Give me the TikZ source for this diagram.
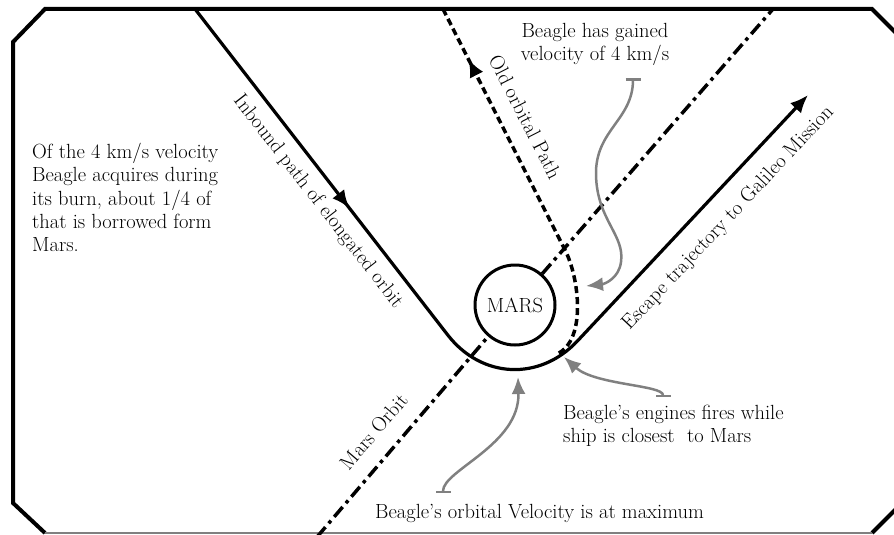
\documentclass[tikz,border=0pt]{standalone}
\usepackage{xcolor}
\usetikzlibrary{arrows.meta}
\usetikzlibrary{decorations.markings, math}
\definecolor{mgrey}{RGB}{128,128,128}

\begin{document}
\begin{tikzpicture}[x=1pt, y=-1pt,
  >={Latex[length=18pt,width=15pt]},
  txt/.style={font=\fontsize{20.5}{23.3}\selectfont, inner sep=0pt},
  frame/.style={line width=4pt},
  traj/.style={line width=3.2pt},
  oldpath/.style={line width=3.5pt, dash pattern=on 7pt off 4pt},
  orbit/.style={line width=3.5pt, dash pattern=on 13pt off 5pt on 3.5pt off 5pt},
  pointer/.style={draw=mgrey, line width=2.5pt, arrows={Bar[width=15pt]-Latex[length=17pt,width=14pt]}}]

\tikzmath{
\W = 894;
\H = 535;
\R = 40; %radius of Mars
\rc = 100; %rounding at closest approach
}

\clip (0,0) rectangle (\W,\H);

%frame:
\draw[frame] (45,533) -- (13,503) -- (13,42) -- (45,9) -- (872,9) -- (900,37);
\draw[frame] (900,505) -- (872,533);
\draw[mgrey, line width=1.5pt] (45,533) -- (872,533);

%trajectories
\coordinate (inS) at (195,9);
\coordinate (peri) at (509,414);
\coordinate (escN) at (808,95);
\coordinate (oldN) at (443,9);
\coordinate (oldB) at (565,250);
\coordinate (oldE) at (557,354);
\coordinate (orbS) at (317,537);
\coordinate (orbN) at (773,9);

%Mars:
\node[txt, circle, draw, line width=3pt, minimum size=2*\R] (mars) at (515,305) {MARS};

\draw[orbit] (orbS) -- (mars);
\draw[orbit] (mars) -- (orbN);

\draw[oldpath, decoration={markings, mark=at position 56pt with {\arrowreversed{>}}}, postaction={decorate}]
  (oldN) -- (oldB) .. controls (579,277) and (587,340) .. (oldE);

\draw[traj, ->, rounded corners=\rc pt, decoration={markings, mark=at position 252pt with {\arrow{>}}}, postaction={decorate}]
  (inS) -- (peri) -- (escN);

%labels along the paths
\node[txt, anchor=base, rotate=-52.2] (inlbl) at (314,205) {Inbound path of elongated orbit};
\node[txt, anchor=base, rotate=-63] (oldlbl) at (519,120) {Old orbital Path};
\node[txt, anchor=base, rotate=46.8] (esclbl) at (732,222) {Escape trajectory to Galileo Mission};
\node[txt, anchor=base, rotate=49.5] (orblbl) at (379,436) {Mars Orbit};

%notes
\node[txt, align=left, anchor=north west] (note) at (32,143) {Of the 4 km/s velocity\\ Beagle acquires during\\ its burn, about 1/4 of\\ that is borrowed form\\ Mars.};
\node[txt, align=center, anchor=north] (gain) at (595,23) {Beagle has gained\\ velocity of 4 km/s};
\node[txt, align=left, anchor=north west] (fire) at (563,405) {Beagle's engines fires while\\ ship is closest~ to Mars};
\node[txt, anchor=north west] (vmax) at (375,504) {Beagle's orbital Velocity is at maximum};

%pointers
\coordinate (gainT) at (633,78);
\coordinate (gainH) at (586,286);
\coordinate (fireT) at (663,397);
\coordinate (fireH) at (564,357);
\coordinate (vmaxT) at (443,493);
\coordinate (vmaxH) at (518,377);

\draw[pointer] (gainT) .. controls (633,120) and (595,130) .. (596,175)
  .. controls (597,220) and (625,235) .. (621,262)
  .. controls (619,278) and (605,284) .. (gainH);
\draw[pointer] (fireT) .. controls (663,385) and (595,385) .. (fireH);
\draw[pointer] (vmaxT) .. controls (443,470) and (520,445) .. (vmaxH);

\end{tikzpicture}
\end{document}
